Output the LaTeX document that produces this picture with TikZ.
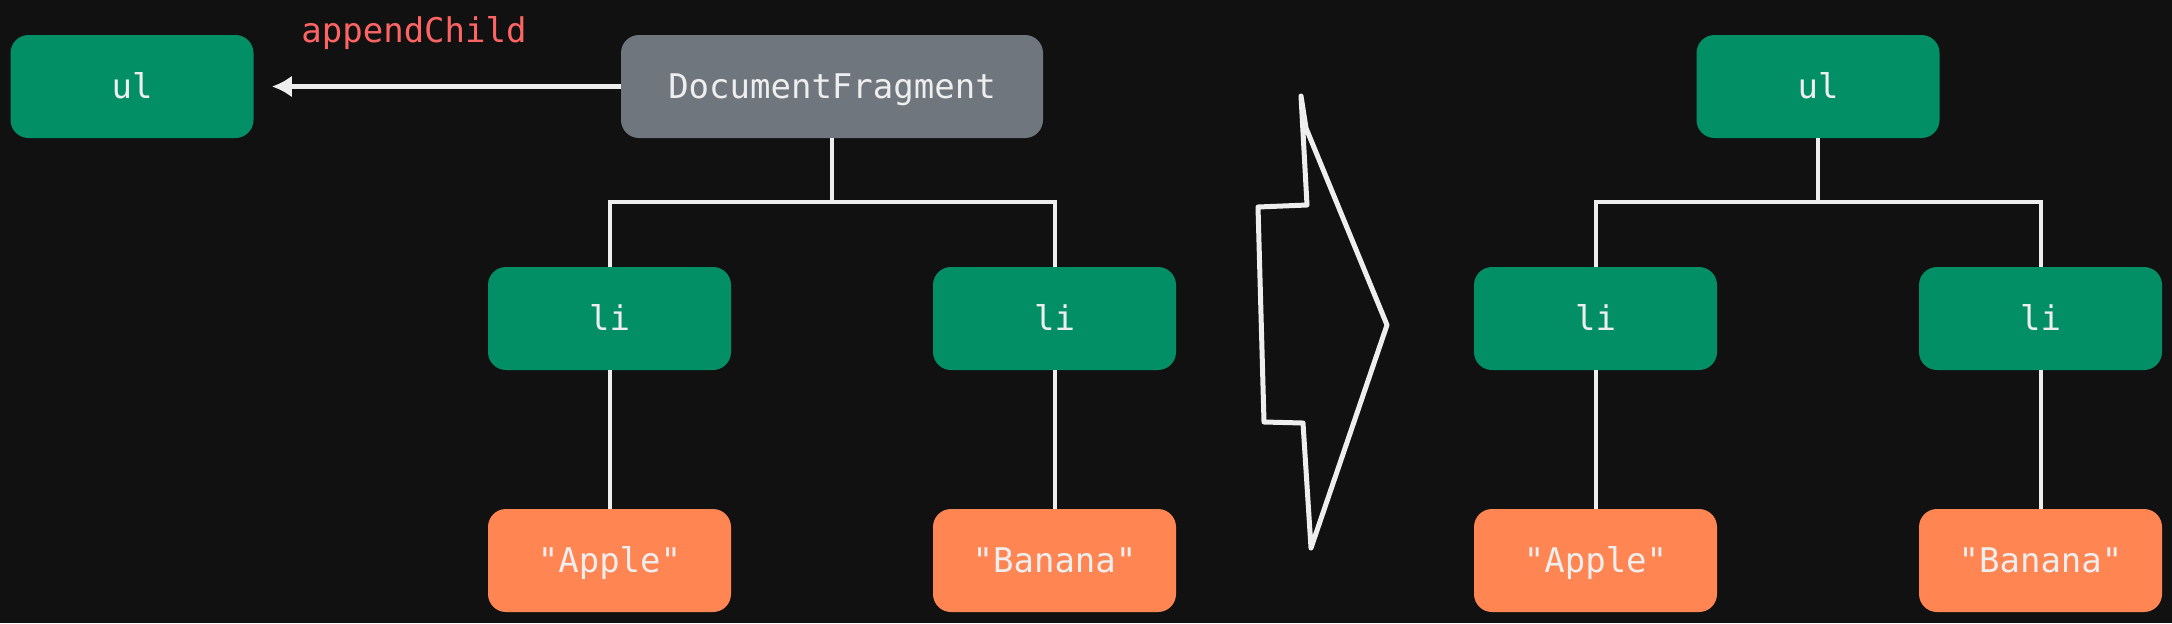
\documentclass[tikz,border=0pt]{standalone}
\usepackage{fontspec}
\setmonofont{DejaVu Sans Mono}
\usetikzlibrary{positioning}
\usetikzlibrary{arrows.meta}
\definecolor{bg}{HTML}{111111}
\definecolor{domgreen}{HTML}{038F65}
\definecolor{fraggray}{HTML}{6F767E}
\definecolor{textorange}{HTML}{FF8552}
\definecolor{methodred}{HTML}{FF6464}
\definecolor{ink}{HTML}{EEEEEE}
\tikzset{
        treenode/.style={align=center,inner sep=0pt,rounded corners=9pt,minimum width=121.5pt,minimum height=51.5pt,text height=14pt,text depth=2pt,text=ink,font=\ttfamily\fontsize{17}{20}\selectfont},
        % Element nodes
        node_element/.style={treenode, fill=domgreen},
        % Fragment node
        node_fragment/.style={treenode, fill=fraggray, minimum width=211pt},
        % Text nodes
        node_text/.style={treenode, fill=textorange},
        % Method label
        label_method/.style={inner sep=0pt, text=methodred, font=\ttfamily\fontsize{17}{20}\selectfont},
        % Tree links
        link/.style={draw=ink, line width=2pt},
        % appendChild arrow
        push_arrow/.style={draw=ink, line width=2.5pt, -{Latex[length=10pt,width=11pt]}, shorten >=9pt},
        % Hand drawn arrow
        hand_arrow/.style={draw=ink, line width=2.5pt, line join=round, line cap=round}
}
\begin{document}
\begin{tikzpicture}[
            x=0.5pt, y=-0.5pt,
            level 1/.style={sibling distance=222.5pt, level distance=116pt},
            level 2/.style={level distance=121pt},
            edge from parent/.style={link},
            edge from parent path={(\tikzparentnode.south) -- ++(0pt,-32pt) -| (\tikzchildnode.north)}
        ]
            \fill[bg] (0,0) rectangle (2172,623);
            \useasboundingbox (0,0) rectangle (2172,623);

            % before
            \node[node_element] (ulA) at (132,86.5) {ul};
            \node[node_fragment] (frag) at (832,86.5) {DocumentFragment}
                child { node[node_element] (liA) {li}
                        child { node[node_text] (appleA) {"Apple"} }
                }
                child { node[node_element] (liB) {li}
                        child { node[node_text] (bananaA) {"Banana"} }
                }
            ;
            \node[label_method] (append) at (414,33) {appendChild};
            \draw[push_arrow] (frag.west) -- (ulA.east);

            % arrow
            \draw[hand_arrow] (1306,128) -- (1301,96) -- (1307,205) -- (1258,207)
                -- (1264,422) -- (1303,423) -- (1311,548) -- (1387,325) -- cycle;

            % after
            \node[node_element] (ulB) at (1818,86.5) {ul}
                child { node[node_element] (liC) {li}
                        child { node[node_text] (appleB) {"Apple"} }
                }
                child { node[node_element] (liD) {li}
                        child { node[node_text] (bananaB) {"Banana"} }
                }
            ;
        \end{tikzpicture}
\end{document}
